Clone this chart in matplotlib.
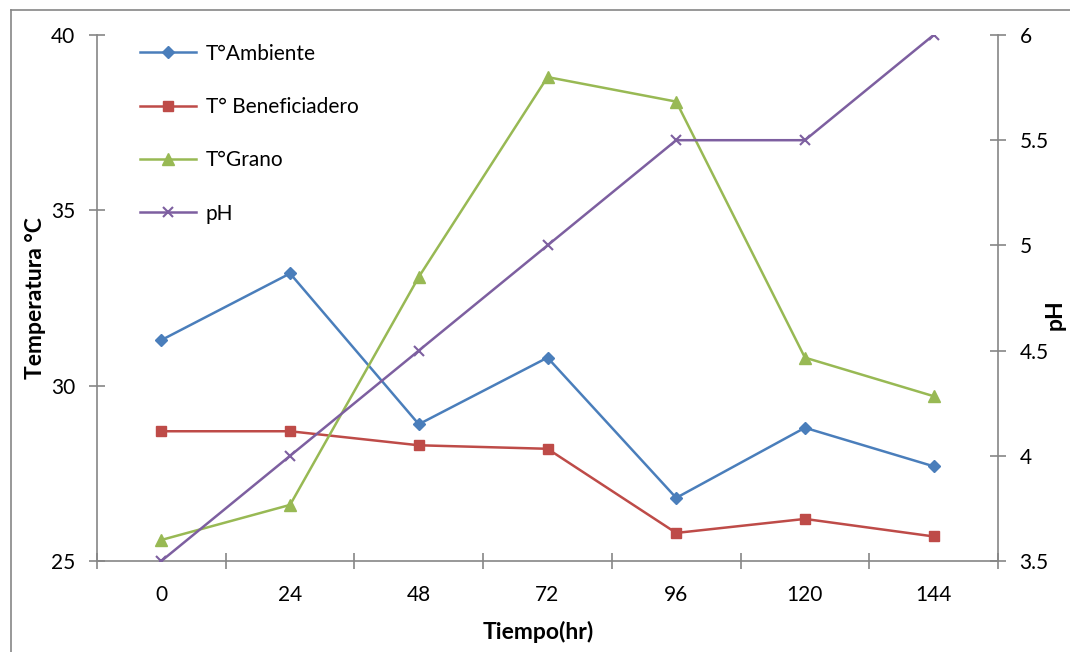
import numpy as np
import matplotlib.pyplot as plt
from matplotlib.lines import Line2D

plt.rcParams['font.family'] = ['Lato', 'DejaVu Sans']

# data
tiempo = ['0', '24', '48', '72', '96', '120', '144']
t_ambiente = [31.3, 33.2, 28.9, 30.8, 26.8, 28.8, 27.7]
t_beneficiadero = [28.7, 28.7, 28.3, 28.2, 25.8, 26.2, 25.7]
t_grano = [25.6, 26.6, 33.1, 38.8, 38.1, 30.8, 29.7]
ph = [3.5, 4.0, 4.5, 5.0, 5.5, 5.5, 6.0]

grey = '#868686'
x = np.arange(len(tiempo))

fig = plt.figure(figsize=(10.7, 6.52), dpi=100)
ax = fig.add_axes([97/1070, 1-561/652, (998-97)/1070, (561-35)/652])
ax2 = ax.twinx()

l1, = ax.plot(x, t_ambiente, color='#4A7EBB', marker='D', ms=6.5, lw=1.8, label='T°Ambiente')
l2, = ax.plot(x, t_beneficiadero, color='#BE4B48', marker='s', ms=7, lw=1.8, label='T° Beneficiadero')
l3, = ax.plot(x, t_grano, color='#98B954', marker='^', ms=8, lw=1.8, label='T°Grano')
l4, = ax2.plot(x, ph, color='#7D5FA0', marker='x', ms=7, mew=1.5, lw=1.8, label='pH')

ax.set_xlim(-0.5, len(tiempo) - 0.5)
ax.set_ylim(25, 40)
ax.set_yticks([25, 30, 35, 40])
ax2.set_ylim(3.5, 6)
ax2.set_yticks([3.5, 4, 4.5, 5, 5.5, 6])
ax2.set_yticklabels(['3.5', '4', '4.5', '5', '5.5', '6'])

ax.set_xticks(x)
ax.set_xticklabels(tiempo)
ax.set_xticks(np.arange(-0.5, len(tiempo)), minor=True)
ax.tick_params(axis='x', which='major', length=0, pad=17, labelsize=15)
ax.tick_params(axis='x', which='minor', direction='inout', length=11, width=1.2, color=grey)
ax.tick_params(axis='y', direction='inout', length=11, width=1.2, color=grey, pad=10, labelsize=15)
ax2.tick_params(axis='y', direction='inout', length=11, width=1.2, color=grey, pad=10, labelsize=15)

for a in (ax, ax2):
    a.spines['top'].set_visible(False)
    for s in ('left', 'right', 'bottom'):
        a.spines[s].set_color(grey)
        a.spines[s].set_linewidth(1.2)
ax.spines['right'].set_visible(False)
ax2.spines['left'].set_visible(False)
ax2.spines['bottom'].set_visible(False)

ax.set_ylabel('Temperatura °C', fontsize=16.5, fontweight='bold')
ax.yaxis.set_label_coords(-0.057, 0.5)
ax2.set_ylabel('pH', fontsize=16.5, fontweight='bold', rotation=90)
ax2.yaxis.set_label_coords(1.052, 0.468)
ax.set_xlabel('Tiempo(hr)', fontsize=16.5, fontweight='bold')
ax.xaxis.set_label_coords(0.49, -0.113)

ax.legend(handles=[l1, l2, l3, l4], loc='upper left', bbox_to_anchor=(0.027, 1.019),
          frameon=False, fontsize=15, handlelength=2.7, labelspacing=1.6, handletextpad=0.45)

# outer chart border (partially visible)
fig.add_artist(Line2D([10.5/1070, 10.5/1070], [0, 1-9.5/652], transform=fig.transFigure, color=grey, lw=1.2))
fig.add_artist(Line2D([10.5/1070, 1], [1-9.5/652, 1-9.5/652], transform=fig.transFigure, color=grey, lw=1.2))

fig.savefig('out.png', dpi=100)
